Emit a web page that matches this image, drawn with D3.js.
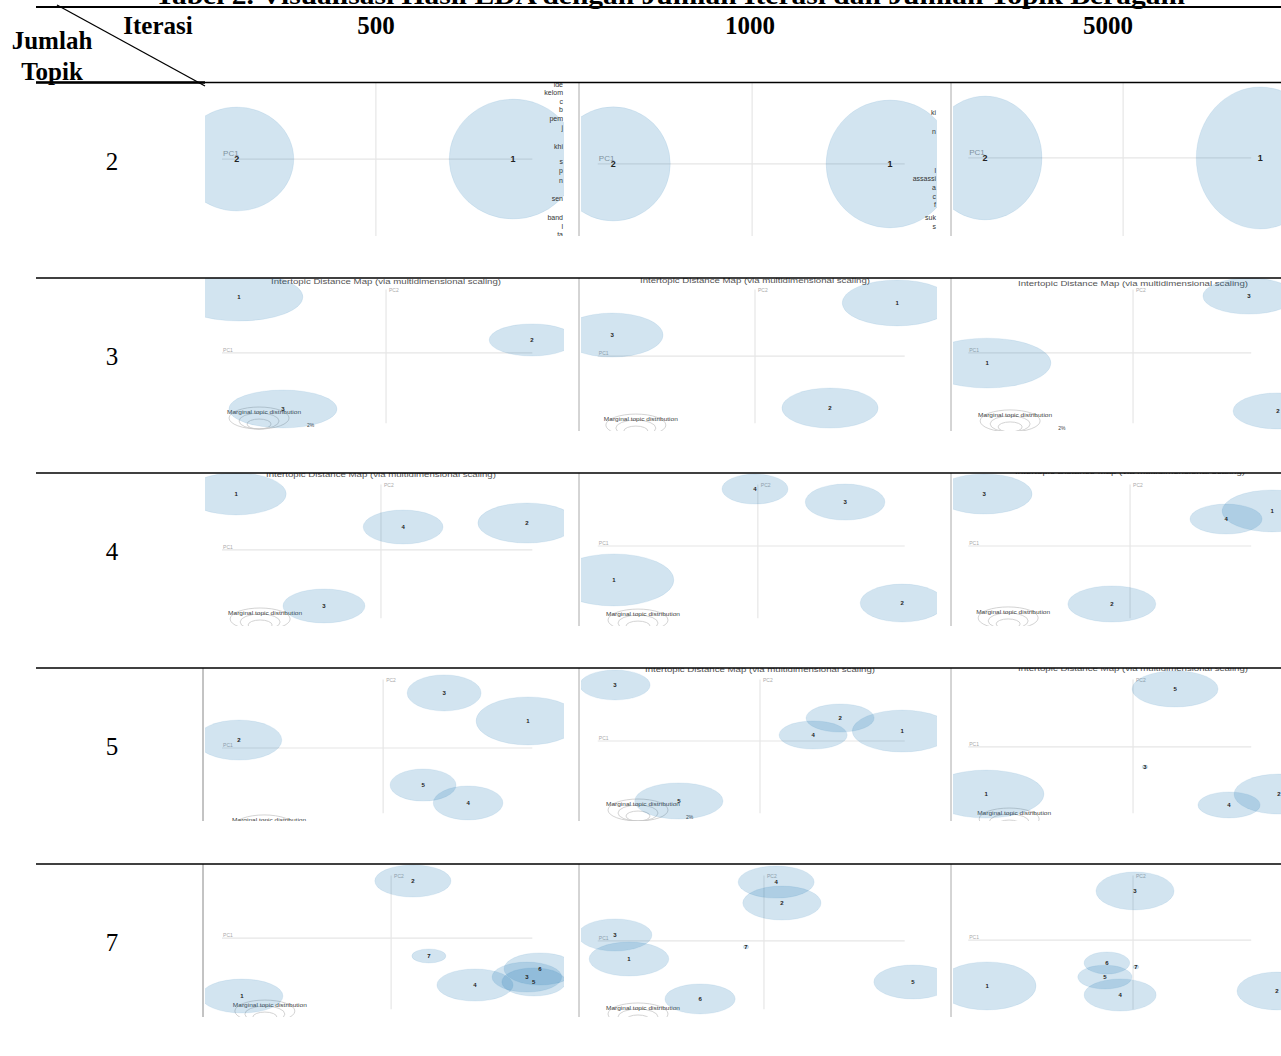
<!DOCTYPE html>
<html><head><meta charset="utf-8">
<script src="https://cdn.jsdelivr.net/npm/d3@7"></script>
<style>body{margin:0;background:#fff}svg{display:block}</style>
</head><body>
<script>
// ---------------- DATA ----------------
const tableTitle = "Tabel 2. Visualisasi Hasil LDA dengan Jumlah Iterasi dan Jumlah Topik Beragam";
const iterations = ["500", "1000", "5000"];
const topicCounts = ["2", "3", "4", "5", "7"];
const mapTitle = "Intertopic Distance Map (via multidimensional scaling)";
const marginalLabel = "Marginal topic distribution";

// topics per panel: [label, pc1, pc2, radius along PC1, radius along PC2] (panel percent units)
const topics_2_500  = [["2", 9.6, 49.7, 15.7, 34.0], ["1", 85.7, 49.7, 17.6, 39.2]];
const topics_2_1000 = [["2", 9.8, 52.9, 15.9, 37.3], ["1", 86.9, 52.9, 17.8, 41.8]];
const topics_2_5000 = [["2", 10.6, 49.0, 17.2, 40.5], ["1", 93.7, 49.0, 19.3, 46.4]];

const topics_3_500  = [["1", 10.2, 12.4, 17.6, 15.7], ["2", 90.9, 40.5, 11.8, 10.5], ["3", 22.3, 85.6, 14.9, 12.4]];
const topics_3_1000 = [["1", 88.9, 16.3, 15.3, 15.0], ["3", 9.5, 37.3, 14.2, 14.4], ["2", 70.2, 85.0, 13.4, 13.1]];
const topics_3_5000 = [["3", 90.3, 11.8, 13.9, 11.8], ["1", 11.2, 55.6, 19.3, 16.3], ["2", 99.1, 86.9, 13.6, 11.8]];

const topics_4_500  = [["1", 9.4, 13.7, 13.8, 13.7], ["4", 55.4, 35.3, 11.0, 11.1], ["2", 89.5, 32.7, 13.5, 13.1], ["3", 33.6, 86.9, 11.3, 11.1]];
const topics_4_1000 = [["4", 49.3, 10.5, 9.2, 9.8], ["3", 74.4, 19.0, 11.1, 11.8], ["1", 10.0, 69.9, 16.7, 17.0], ["2", 90.3, 85.0, 11.7, 12.4]];
const topics_4_5000 = [["3", 10.3, 13.7, 14.5, 13.1], ["1", 97.3, 24.8, 15.1, 13.7], ["4", 83.4, 30.1, 10.9, 9.8], ["2", 48.9, 85.6, 13.3, 11.8]];

const topics_5_500  = [["3", 66.7, 16.3, 10.2, 11.8], ["1", 89.8, 34.6, 14.3, 15.7], ["2", 10.2, 47.1, 11.8, 13.1], ["5", 60.9, 76.5, 9.1, 10.5], ["4", 73.3, 88.2, 9.6, 11.1]];
const topics_5_1000 = [["3", 10.3, 11.1, 9.8, 9.8], ["2", 73.0, 32.7, 9.5, 9.2], ["4", 65.5, 43.8, 9.5, 9.2], ["1", 90.3, 41.2, 13.9, 13.7], ["5", 28.1, 86.9, 12.3, 11.8]];
const topics_5_5000 = [["5", 68.0, 13.7, 13.0, 11.8], ["3", 58.9, 64.7, 0.9, 1.3], ["1", 10.9, 82.4, 17.5, 15.7], ["4", 84.3, 89.5, 9.4, 8.5], ["2", 99.4, 82.4, 13.6, 13.1]];

const topics_7_500  = [["2", 58.1, 11.1, 10.5, 10.5], ["7", 62.5, 60.1, 4.7, 4.6], ["4", 75.2, 79.1, 10.5, 10.5], ["6", 93.1, 68.6, 9.9, 10.5], ["3", 89.5, 73.9, 9.6, 9.8], ["5", 91.4, 77.1, 8.8, 9.2], ["1", 11.0, 86.3, 11.3, 11.1]];
const topics_7_1000 = [["4", 55.2, 11.8, 10.6, 10.5], ["2", 56.8, 25.5, 10.9, 11.1], ["3", 10.3, 46.4, 10.3, 10.5], ["1", 14.2, 62.1, 11.1, 11.1], ["7", 46.8, 54.2, 0.8, 1.3], ["6", 34.0, 88.2, 9.8, 9.8], ["5", 93.3, 77.1, 10.9, 11.1]];
const topics_7_5000 = [["3", 55.9, 17.6, 11.8, 12.4], ["6", 47.4, 64.7, 6.9, 7.2], ["7", 56.2, 67.3, 0.9, 1.3], ["5", 46.8, 73.9, 8.2, 7.8], ["4", 51.4, 85.6, 10.9, 10.5], ["1", 11.2, 79.7, 14.8, 15.7], ["2", 98.8, 83.0, 12.1, 12.4]];

// PC axes origin per panel [pc1 axis position, pc2 axis position]
const origins_2 = [[47.9, 49.7], [48.5, 52.9], [52.3, 49.0]];
const origins_3 = [[50.7, 49.0], [49.3, 51.0], [55.3, 49.0]];
const origins_4 = [[49.3, 50.3], [50.1, 47.7], [54.4, 47.7]];
const origins_5 = [[49.9, 52.3], [50.7, 47.7], [55.3, 51.6]];
const origins_7 = [[52.1, 48.4], [51.8, 50.3], [55.3, 49.7]];

// map title vertical position per panel (null = cropped away)
const titleY_2 = [null, null, null];
const titleY_3 = [2.6, 1.9, 3.3];
const titleY_4 = [1.3, null, -1.3];
const titleY_5 = [null, 0.7, 0];
const titleY_7 = [null, null, null];

// "Marginal topic distribution" label position per panel
const marginal_2 = [null, null, null];
const marginal_3 = [[6.9, 87.6], [7.2, 92.2], [8.5, 89.5]];
const marginal_4 = [[7.2, 91.5], [7.8, 92.2], [7.9, 90.8]];
const marginal_5 = [[8.3, 99.3], [7.8, 88.9], [8.2, 94.8]];
const marginal_7 = [[8.5, 92.2], [7.8, 94.1], null];
const pctLabel_3 = ["2%", null, "2%"];
const pctLabel_5 = [null, "2%", null];

// cropped term-list fragments visible at the right edge of row "2"
const terms_2_500 = [["ide", 0.7], ["kelom", 5.9], ["c", 11.8], ["b", 17.6], ["pem", 22.9], ["j", 28.8], ["khi", 41.2], ["s", 51.6], ["p", 57.5], ["n", 63.4], ["sen", 75.2], ["band", 87.6], ["l", 93.5], ["ta", 99.3]];
const terms_2_1000 = [["ki", 19.0], ["n", 32.0], ["l", 57.5], ["assassi", 62.1], ["a", 68.6], ["c", 73.9], ["f", 79.7], ["suk", 88.2], ["s", 94.1]];

const panelTopics = [
  [topics_2_500, topics_2_1000, topics_2_5000],
  [topics_3_500, topics_3_1000, topics_3_5000],
  [topics_4_500, topics_4_1000, topics_4_5000],
  [topics_5_500, topics_5_1000, topics_5_5000],
  [topics_7_500, topics_7_1000, topics_7_5000]
];
const panelOrigins = [origins_2, origins_3, origins_4, origins_5, origins_7];
const panelTitleY = [titleY_2, titleY_3, titleY_4, titleY_5, titleY_7];
const panelMarginal = [marginal_2, marginal_3, marginal_4, marginal_5, marginal_7];
const panelPct = [[null, null, null], pctLabel_3, [null, null, null], pctLabel_5, [null, null, null]];
const panelTerms = [[terms_2_500, terms_2_1000, null], [null, null, null], [null, null, null], [null, null, null], [null, null, null]];

// ---------------- LAYOUT ----------------
const W = 1281, H = 1056;
const colLeft = [202, 578, 950], colWidth = [363, 359, 331], colClipRight = [564, 937, 1281];
const rowTop = [83, 278, 473, 668, 864], panelH = 153;
const serif = "'Liberation Serif','Times New Roman',serif";
const sans = "'Liberation Sans',Arial,sans-serif";

const svg = d3.select("body").append("svg").attr("width", W).attr("height", H);
const defs = svg.append("defs");

// table title (cropped at top, as in the reference)
svg.append("text").attr("x", 670).attr("y", 4).attr("text-anchor", "middle")
  .attr("font-family", serif).attr("font-weight", "bold").attr("font-size", 26)
  .attr("textLength", 1030).attr("lengthAdjust", "spacingAndGlyphs")
  .text(tableTitle);

// header
const colScale = d3.scaleOrdinal().domain(iterations).range([376, 750, 1108]);
svg.selectAll("text.iter").data(iterations).join("text").attr("class", "iter")
  .attr("x", d => colScale(d)).attr("y", 34).attr("text-anchor", "middle")
  .attr("font-family", serif).attr("font-weight", "bold").attr("font-size", 25).text(d => d);
svg.append("text").attr("x", 158).attr("y", 34).attr("text-anchor", "middle")
  .attr("font-family", serif).attr("font-weight", "bold").attr("font-size", 25).text("Iterasi");
svg.append("text").attr("x", 52).attr("y", 49).attr("text-anchor", "middle")
  .attr("font-family", serif).attr("font-weight", "bold").attr("font-size", 25).text("Jumlah");
svg.append("text").attr("x", 52).attr("y", 80).attr("text-anchor", "middle")
  .attr("font-family", serif).attr("font-weight", "bold").attr("font-size", 25).text("Topik");

// row labels
const rowScale = d3.scaleOrdinal().domain(topicCounts).range(rowTop.map(t => t + 87));
svg.selectAll("text.rowlab").data(topicCounts).join("text").attr("class", "rowlab")
  .attr("x", 112).attr("y", d => rowScale(d)).attr("text-anchor", "middle")
  .attr("font-family", serif).attr("font-size", 25).text(d => d);

// panels
panelTopics.forEach((rowArr, r) => {
  rowArr.forEach((topics, c) => {
    const x0 = colLeft[c], y0 = rowTop[r];
    const x = d3.scaleLinear().domain([0, 100]).range([x0, x0 + colWidth[c]]);
    const y = d3.scaleLinear().domain([0, 100]).range([y0, y0 + panelH]);
    const id = `clip-${r}-${c}`;
    const clipL = x0 + 3;
    defs.append("clipPath").attr("id", id).append("rect")
      .attr("x", clipL).attr("y", y0).attr("width", colClipRight[c] - clipL).attr("height", panelH);
    const g = svg.append("g").attr("clip-path", `url(#${id})`);
    const big = r === 0;
    const [ox, oy] = panelOrigins[r][c];

    // axes
    g.append("line").attr("x1", x(5.5)).attr("x2", x(91)).attr("y1", y(oy)).attr("y2", y(oy))
      .attr("stroke", "#e6e6e6").attr("stroke-width", 1.2);
    g.append("line").attr("x1", x(ox)).attr("x2", x(ox))
      .attr("y1", big ? y(0) : y(7.5)).attr("y2", big ? y(100) : y(95))
      .attr("stroke", "#e6e6e6").attr("stroke-width", 1.2);
    g.append("text").attr("x", x(5.8)).attr("y", y(oy) - (big ? 3 : 1))
      .attr("font-family", sans).attr("font-size", big ? 8 : 5).attr("fill", big ? "#999" : "#aaa").text("PC1");
    if (!big) {
      g.append("text").attr("x", x(ox) + 3).attr("y", y(7.5) + 3)
        .attr("font-family", sans).attr("font-size", 5).attr("fill", "#aaa").text("PC2");
    }

    // map title
    const ty = panelTitleY[r][c];
    if (ty !== null) {
      g.append("text").attr("x", x(ox)).attr("y", y(ty) + 2.5).attr("text-anchor", "middle")
        .attr("font-family", sans).attr("font-size", 7).attr("fill", "#555")
        .attr("textLength", 230).attr("lengthAdjust", "spacingAndGlyphs").text(mapTitle);
    }

    // marginal legend
    const mg = panelMarginal[r][c];
    if (mg) {
      const lx = x(mg[0]), ly = y(mg[1]);
      [[30, 11], [20, 8], [12, 5]].forEach(([rx, ry]) => {
        g.append("ellipse").attr("cx", lx + 32).attr("cy", ly + 17 - ry).attr("rx", rx).attr("ry", ry)
          .attr("fill", "none").attr("stroke", "#c8c8c8").attr("stroke-width", 0.8);
      });
      g.append("text").attr("x", lx).attr("y", ly + 2).attr("font-family", sans).attr("font-size", 5.5)
        .attr("fill", "#444").attr("textLength", 74).attr("lengthAdjust", "spacingAndGlyphs").text(marginalLabel);
      const pl = panelPct[r][c];
      if (pl) {
        g.append("text").attr("x", lx + 80).attr("y", ly + 15).attr("font-family", sans)
          .attr("font-size", 5).attr("fill", "#444").text(pl);
      }
    }

    // topic circles
    g.selectAll("ellipse.topic").data(topics).join("ellipse").attr("class", "topic")
      .attr("cx", d => x(d[1])).attr("cy", d => y(d[2]))
      .attr("rx", d => Math.max(1.8, x(d[3]) - x(0))).attr("ry", d => Math.max(1.6, y(d[4]) - y(0)))
      .attr("fill", "#1f77b4").attr("fill-opacity", 0.2)
      .attr("stroke", "#1f77b4").attr("stroke-opacity", 0.08).attr("stroke-width", 1);
    g.selectAll("text.tl").data(topics).join("text").attr("class", "tl")
      .attr("x", d => x(d[1])).attr("y", d => y(d[2]) + (big ? 3 : 2))
      .attr("text-anchor", "middle").attr("font-family", sans).attr("font-weight", "bold")
      .attr("font-size", big ? 9 : 6).attr("fill", "#222").text(d => d[0]);

    // cropped term list fragments
    const terms = panelTerms[r][c];
    if (terms) {
      g.selectAll("text.term").data(terms).join("text").attr("class", "term")
        .attr("x", colClipRight[c] - 1).attr("y", d => y(d[1]) + 2.5).attr("text-anchor", "end")
        .attr("font-family", sans).attr("font-size", 7).attr("fill", "#333").text(d => d[0]);
    }

    // image borders
    if (c > 0 || r >= 3) {
      svg.append("line").attr("x1", x0 + 1).attr("x2", x0 + 1).attr("y1", y0).attr("y2", y0 + panelH)
        .attr("stroke", c === 0 ? "#888" : "#aaa").attr("stroke-width", 1);
    }
  });
});

// table rules
svg.append("line").attr("x1", 36).attr("x2", W).attr("y1", 7).attr("y2", 7).attr("stroke", "#000").attr("stroke-width", 2);
svg.append("line").attr("x1", 36).attr("x2", W).attr("y1", 82.5).attr("y2", 82.5).attr("stroke", "#000").attr("stroke-width", 1.5);
svg.append("line").attr("x1", 36).attr("x2", 205).attr("y1", 82.5).attr("y2", 82.5).attr("stroke", "#000").attr("stroke-width", 2.5);
svg.append("line").attr("x1", 57).attr("y1", 5).attr("x2", 205).attr("y2", 86).attr("stroke", "#000").attr("stroke-width", 1.3);
rowTop.slice(1).forEach(t => {
  svg.append("line").attr("x1", 36).attr("x2", W).attr("y1", t).attr("y2", t).attr("stroke", "#000").attr("stroke-width", 1.5);
});
</script>
</body></html>
